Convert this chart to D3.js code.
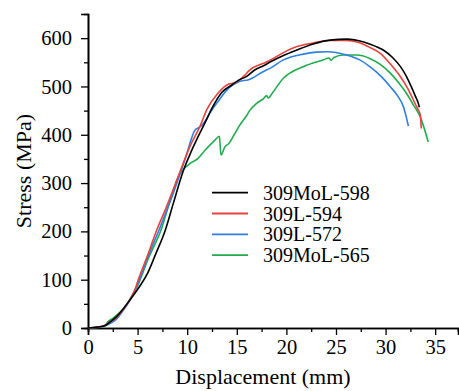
<!DOCTYPE html>
<html>
<head>
<meta charset="utf-8">
<script src="https://cdn.jsdelivr.net/npm/d3@7"></script>
</head>
<body style="margin:0; background:#fff">
<div id="chart"></div>
<script>
// series labels and colours
var seriesNames = ['309MoL-598', '309L-594', '309L-572', '309MoL-565'];
var seriesColors = ['#000000', '#e8413e', '#2f7fe0', '#1fac4c'];

// displacement (mm) / stress (MPa)
var blackX = [0, 1, 1.7, 2.2, 2.9, 3.6, 4.4, 5.2, 6.0, 6.8, 7.8, 8.6, 9.6, 10.4, 11.1, 11.8, 12.5, 13.5, 14.5, 15.2, 16.0, 16.8, 17.7, 18.4, 19.7, 21.0, 22.7, 24.4, 26.1, 27.8, 29.0, 29.8, 30.7, 31.5, 32.1, 32.6, 33.0, 33.3, 33.4];
var blackY = [0, 2, 5, 12, 24, 41, 63, 86, 113, 152, 203, 258, 325, 365, 396, 425, 455, 488, 503, 513, 521, 534, 543, 551, 564, 575, 588, 596, 598, 592, 583, 575, 560, 541, 521, 499, 480, 465, 457];

var redX = [0, 1, 1.7, 2.2, 2.9, 3.5, 4.2, 4.7, 5.07, 6.0, 6.93, 7.8, 8.6, 9.5, 10.3, 11.3, 12.0, 13.1, 14.2, 14.7, 15.8, 16.3, 17.7, 18.4, 19.7, 21.0, 22.7, 24.4, 25.8, 27.1, 28.3, 29.5, 30.5, 31.5, 32.2, 32.8, 33.2, 33.5, 33.6];
var redY = [0, 2, 5, 12, 22, 37, 58, 78, 100, 150, 203, 245, 287, 336, 377, 418, 453, 486, 505, 507, 523, 534, 548, 555, 570, 582, 590, 595, 595, 592, 582, 568, 546, 520, 497, 472, 455, 441, 413];

var blueX = [0, 1, 1.7, 2.2, 2.8, 3.5, 4.2, 5.1, 6.0, 7.16, 8.6, 9.8, 10.8, 11.1, 11.5, 12.6, 13.0, 14.2, 15.2, 16.2, 17.7, 18.4, 19.7, 21.7, 23.0, 24.1, 26.1, 27.3, 28.4, 29.5, 30.5, 31.2, 31.8, 32.3];
var blueY = [0, 2, 4, 9, 17, 35, 56, 95, 145, 203, 279, 350, 410, 414, 420, 455, 466, 497, 510, 514, 531, 538, 555, 567, 571, 572, 565, 556, 541, 522, 499, 481, 458, 418];

var greenX = [0, 1, 1.7, 2.0, 2.5, 2.9, 3.5, 4.2, 5.1, 6.0, 7.36, 8.4, 9.1, 9.7, 10.3, 11.1, 11.8, 12.8, 13.25, 13.4, 13.8, 14.2, 14.7, 15.3, 16.0, 16.3, 17.0, 17.7, 18.0, 18.2, 18.5, 19.7, 21.7, 23.7, 24.3, 24.5, 24.8, 25.75, 27.1, 28.4, 29.5, 30.5, 31.3, 32.1, 32.8, 33.5, 34.3];
var greenY = [0, 1, 4, 13, 20, 27, 38, 58, 92, 140, 203, 272, 313, 330, 341, 351, 368, 389, 397, 358, 375, 382, 399, 420, 440, 450, 465, 475, 481, 476, 484, 517, 541, 555, 559, 554, 560, 565, 565, 558, 545, 527, 508, 486, 462, 437, 385];

var xTicks = [0, 5, 10, 15, 20, 25, 30, 35];
var yTicks = [0, 100, 200, 300, 400, 500, 600];

var width = 459;
var height = 391;
var plotLeft = 88, plotRight = 458, plotTop = 14, plotBottom = 328;
var serif = '"Liberation Serif", serif';

var svg = d3.select('#chart')
	.append('svg')
	.attr('width', width)
	.attr('height', height);

var x = d3.scaleLinear().domain([0, 37.3]).range([plotLeft, plotRight]);
var y = d3.scaleLinear().domain([0, 650]).range([plotBottom, plotTop]);

var xMinor = d3.range(2.5, 37.3, 5);
var yMinor = d3.range(50, 650, 100);

function styleAxis(g) {
	g.select('.domain').attr('stroke', '#000').attr('stroke-width', 1.6);
	g.selectAll('.tick line').attr('stroke', '#000').attr('stroke-width', 1.3);
	g.selectAll('.tick text')
		.attr('fill', '#000')
		.style('font-family', serif)
		.style('font-size', '20.5px');
}

// minor ticks first
svg.append('g')
	.attr('transform', 'translate(0,' + plotBottom + ')')
	.call(d3.axisBottom(x).tickValues(xMinor).tickSize(4).tickFormat(''))
	.call(styleAxis);
svg.append('g')
	.attr('transform', 'translate(' + plotLeft + ',0)')
	.call(d3.axisLeft(y).tickValues(yMinor).tickSize(4).tickFormat(''))
	.call(styleAxis);

svg.append('g')
	.attr('transform', 'translate(0,' + plotBottom + ')')
	.call(d3.axisBottom(x).tickValues(xTicks).tickSize(7).tickPadding(4).tickFormat(d3.format('d')))
	.call(styleAxis);

svg.append('g')
	.attr('transform', 'translate(' + plotLeft + ',0)')
	.call(d3.axisLeft(y).tickValues(yTicks).tickSize(7).tickPadding(9).tickFormat(d3.format('d')))
	.call(styleAxis);

svg.append('text')
	.attr('x', 263)
	.attr('y', 384)
	.attr('text-anchor', 'middle')
	.style('font-family', serif)
	.style('font-size', '22px')
	.text('Displacement (mm)');

svg.append('text')
	.attr('transform', 'translate(31,' + ((plotTop + plotBottom) / 2) + ') rotate(-90)')
	.attr('text-anchor', 'middle')
	.style('font-family', serif)
	.style('font-size', '22px')
	.text('Stress (MPa)');

var dataset = [
	{xs: blackX, ys: blackY},
	{xs: redX, ys: redY},
	{xs: blueX, ys: blueY},
	{xs: greenX, ys: greenY}
];

var line = d3.line()
	.x(function(d){ return x(d[0]); })
	.y(function(d){ return y(d[1]); })
	.curve(d3.curveMonotoneX);

// draw green first so black sits on top, like the original
[3, 2, 1, 0].forEach(function(i){
	var pts = d3.zip(dataset[i].xs, dataset[i].ys);
	svg.append('path')
		.attr('d', line(pts))
		.attr('fill', 'none')
		.attr('stroke', seriesColors[i])
		.attr('stroke-width', 1.6);
});

var legend = svg.selectAll('.legend')
	.data(seriesNames)
	.enter()
	.append('g')
	.attr('class', 'legend')
	.attr('transform', function(d, i){
		return 'translate(212,' + (192.7 + i * 20.8) + ')';
	});

legend.append('line')
	.attr('x1', 0)
	.attr('x2', 36)
	.attr('stroke', function(d, i){ return seriesColors[i]; })
	.attr('stroke-width', 1.8);

legend.append('text')
	.attr('x', 51)
	.attr('y', 7)
	.style('font-family', serif)
	.style('font-size', '20px')
	.text(function(d){ return d; });
</script>
</body>
</html>
